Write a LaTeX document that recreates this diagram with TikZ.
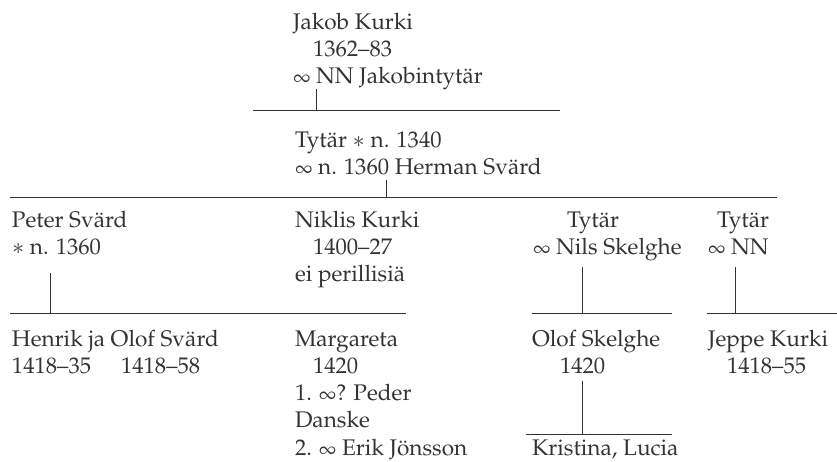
\documentclass[tikz,border=0pt]{standalone}
\usepackage[T1]{fontenc}
\usepackage{mathpazo}
\usepackage{graphicx}
\definecolor{ink}{gray}{0.2}
\newcommand\plines[1]{\begin{tabular}[t]{@{}l@{}}#1\end{tabular}}
\newcommand\marr{\scalebox{0.88}[0.8]{$\infty$}}
\tikzset{
  person/.style={anchor=base west, inner sep=0pt, outer sep=0pt, text=ink,
    font=\fontsize{22.6}{27.3}\selectfont},
  bar/.style={draw=ink, line width=0.9pt}
}
\begin{document}
\begin{tikzpicture}[x=1pt,y=-1pt]
\useasboundingbox (0,0) rectangle (837,461);
% generation 1
\node[person] (jakob) at (293,29) {\plines{Jakob Kurki\\\hspace*{20pt}1362--83\\\marr\ NN Jakobintyt\"ar}};
\coordinate (v1) at (316,89);
\coordinate (b1L) at (253,110);
\coordinate (b1R) at (560,110);
% generation 2
\node[person] (tytar) at (295,147) {\plines{Tyt\"ar $\ast$ n. 1340\\\marr\ n. 1360 Herman Sv\"ard}};
\coordinate (v2) at (386,180);
\coordinate (b2L) at (10,197.5);
\coordinate (b2R) at (777,197.5);
% generation 3
\node[person] (peter) at (12,227) {\plines{Peter Sv\"ard\\$\ast$ n. 1360}};
\node[person] (niklis) at (295,227) {\plines{Niklis Kurki\\\hspace*{18pt}1400--27\\ei perillisi\"a}};
\node[person] (tytar3) at (533,227) {\plines{\hspace*{34pt}Tyt\"ar\\\marr\ Nils Skelghe}};
\node[person] (tytar4) at (708,227) {\plines{\hspace*{9pt}Tyt\"ar\\\marr\ NN}};
\coordinate (v3) at (50,273);
\coordinate (b3L) at (10,313);
\coordinate (b3R) at (406,313);
\coordinate (v4) at (582,267);
\coordinate (b4L) at (532,313);
\coordinate (b4R) at (672,313);
\coordinate (v5) at (735,267);
\coordinate (b5L) at (707,313);
\coordinate (b5R) at (837,313);
% generation 4
\node[person] (henrik) at (12,346) {\plines{Henrik ja Olof Sv\"ard\\1418--35\hspace{30pt}1418--58}};
\node[person] (margareta) at (295,346) {\plines{Margareta\\\hspace*{18pt}1420\\1. \marr? Peder\\Danske\\2. \marr\ Erik J\"onsson}};
\node[person] (olof) at (532,346) {\plines{Olof Skelghe\\\hspace*{28pt}1420}};
\node[person] (jeppe) at (708,346) {\plines{Jeppe Kurki\\\hspace*{19pt}1418--55}};
\coordinate (v6) at (582,381);
\coordinate (b6L) at (526,434);
\coordinate (b6R) at (672,434);
% generation 5
\node[person] (kristina) at (532,455) {\plines{Kristina, Lucia}};
% connectors
\draw[bar] (b1L) -- (b1R);
\draw[bar] (v1) -- (v1 |- b1L);
\draw[bar] (b2L) -- (b2R);
\draw[bar] (v2) -- (v2 |- b2L);
\draw[bar] (b3L) -- (b3R);
\draw[bar] (v3) -- (v3 |- b3L);
\draw[bar] (b4L) -- (b4R);
\draw[bar] (v4) -- (v4 |- b4L);
\draw[bar] (b5L) -- (b5R);
\draw[bar] (v5) -- (v5 |- b5L);
\draw[bar] (b6L) -- (b6R);
\draw[bar] (v6) -- (v6 |- b6L);
\end{tikzpicture}
\end{document}
